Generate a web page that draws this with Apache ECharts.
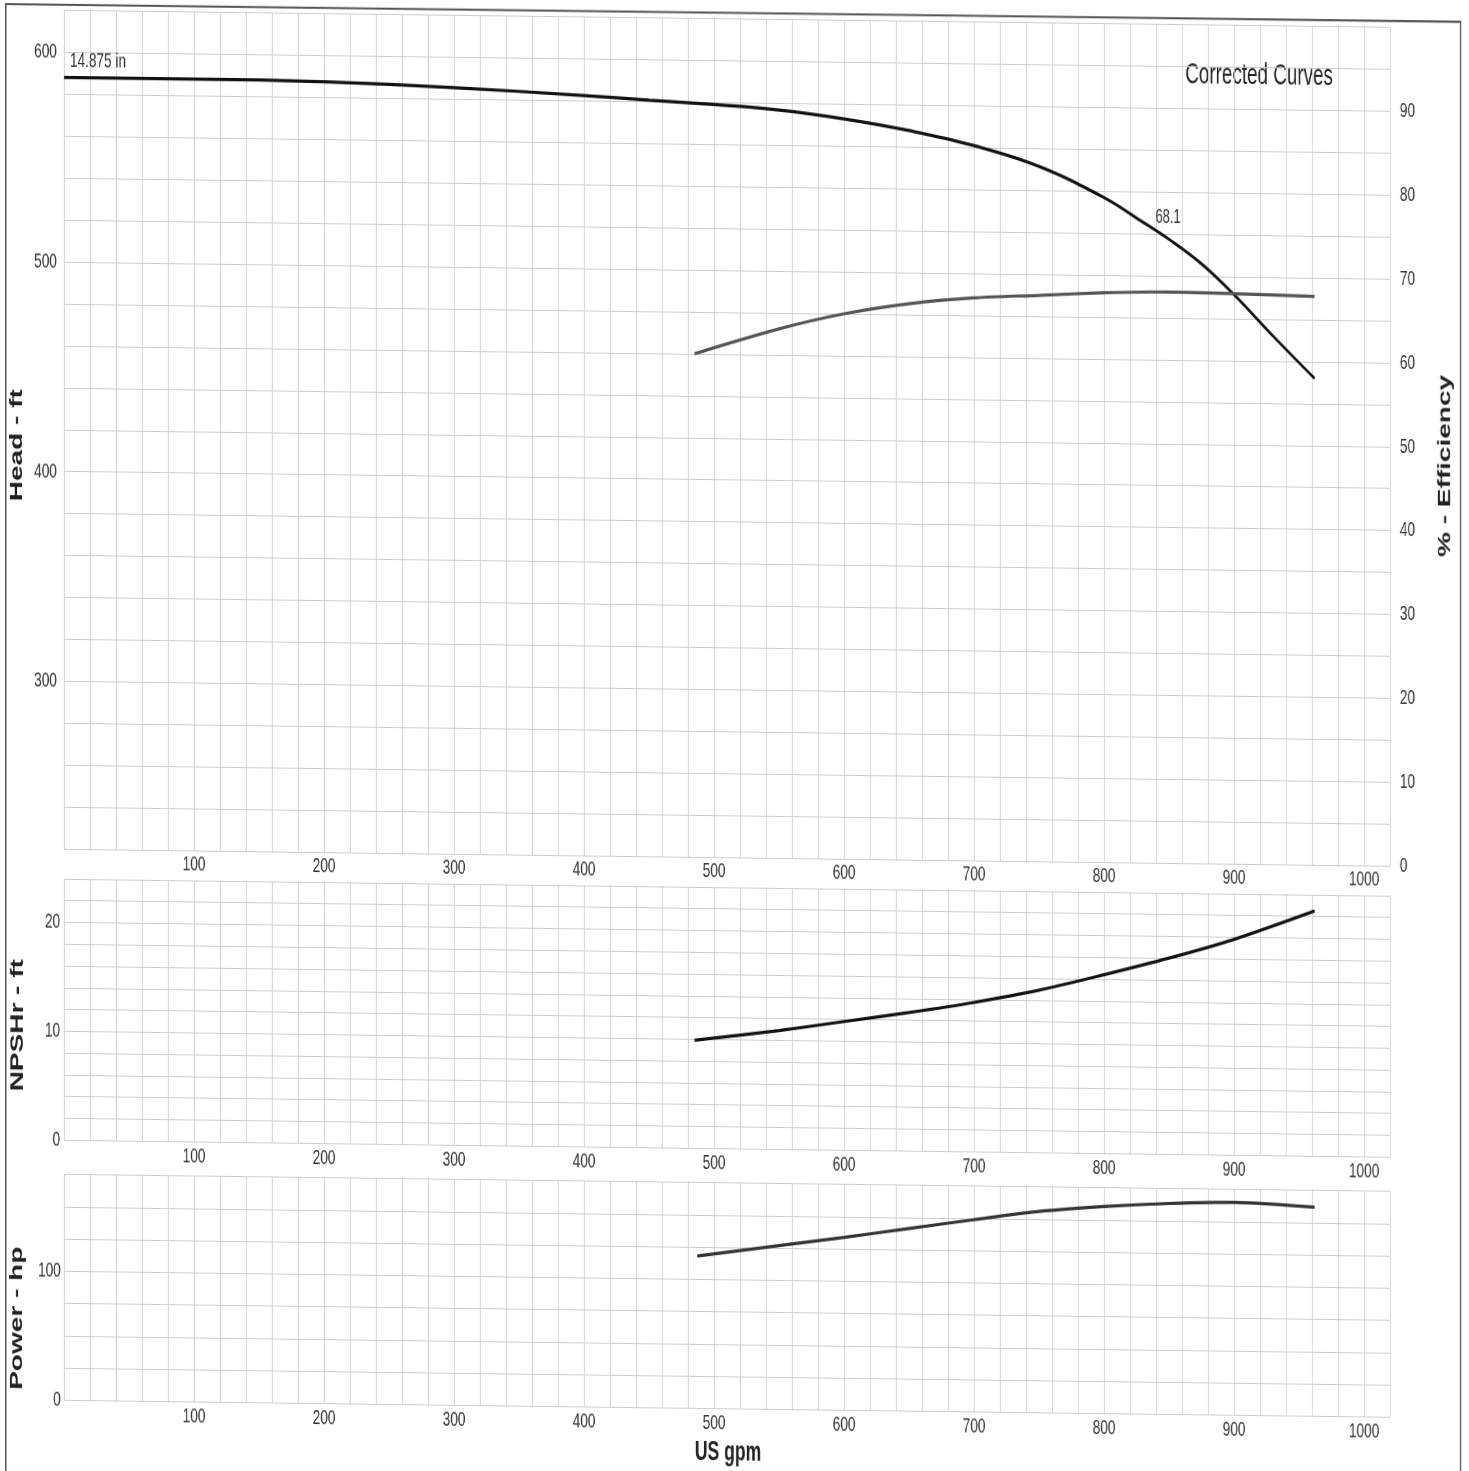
<!DOCTYPE html>
<html>
<head>
<meta charset="utf-8">
<script src="https://cdn.jsdelivr.net/npm/echarts@6/dist/echarts.min.js"></script>
<style>
html,body{margin:0;padding:0;background:#fff;width:1469px;height:1471px;overflow:hidden;}
/* the scanned sheet is compressed horizontally and slightly sheared; reproduce that look */
#chart{width:2260px;height:1500px;transform-origin:0 0;transform:skewY(0.733deg) scaleX(0.65);}
</style>
</head>
<body>
<div id="chart"></div>
<script>
// ---- data ----
var headGpm = [0, 100, 200, 300, 400, 450, 500, 550, 600, 650, 700, 750, 800, 828, 850, 875, 900, 930, 962];
var headFt  = [588, 588, 587.5, 585.5, 582.5, 580.7, 579, 576.8, 573, 567.8, 561, 551.5, 537, 526.3, 517.5, 506, 491.5, 472, 452];

var effGpm = [485, 550, 600, 650, 700, 750, 800, 850, 900, 962];
var effPct = [60.0, 63.1, 65.0, 66.3, 67.1, 67.5, 67.9, 68.1, 68.0, 67.8];

var npshGpm = [485, 550, 600, 650, 700, 750, 800, 850, 900, 962];
var npshFt  = [9.9, 10.9, 11.8, 12.7, 13.7, 14.9, 16.4, 18.0, 19.8, 22.5];

var powerGpm = [487, 550, 600, 650, 700, 750, 800, 850, 900, 962];
var powerHp  = [118, 127, 134, 141.5, 149, 156, 160.5, 163.5, 165, 162];

var impellerLabel = "14.875 in";
var bepLabel = "68.1";
var bepPoint = [850, 517.5];

// ---- helpers ----
function pairs(xs, ys){ return xs.map(function(x,i){ return [x, ys[i]]; }); }
var FONT = "'Liberation Sans', Arial, sans-serif";
var gridColor = '#cdcdcd';
var labelColor = '#333';

function xAxisFor(idx){
  return {
    type:'value', gridIndex:idx, min:0, max:1020, interval:20,
    axisLine:{show:false}, axisTick:{show:false},
    splitLine:{show:true, lineStyle:{color:gridColor, width:1.5}},
    axisLabel:{
      margin:4, color:labelColor, fontFamily:FONT, fontSize:21,
      formatter:function(v){ return (v>0 && v%100===0) ? String(v) : ''; }
    }
  };
}

var chart = echarts.init(document.getElementById('chart'));
var option = {
  animation:false,
  backgroundColor:'#fff',
  grid:[
    {left:98.5, top:9.5, width:2040, height:838.6},
    {left:98.5, top:877.8, width:2040, height:261.5},
    {left:98.5, top:1173.7, width:2040, height:225.6}
  ],
  xAxis:[ xAxisFor(0), xAxisFor(1), xAxisFor(2) ],
  yAxis:[
    {type:'value', gridIndex:0, position:'left', min:220, max:620, interval:20,
     axisLine:{show:false}, axisTick:{show:false},
     splitLine:{show:true, lineStyle:{color:gridColor}},
     axisLabel:{margin:11, color:labelColor, fontFamily:FONT, fontSize:21,
       formatter:function(v){ return v%100===0 ? String(v) : ''; }}},
    {type:'value', gridIndex:0, position:'right', min:0, max:100, interval:10,
     axisLine:{show:false}, axisTick:{show:false}, splitLine:{show:false},
     axisLabel:{margin:15, color:labelColor, fontFamily:FONT, fontSize:21,
       formatter:function(v){ return v<100 ? String(v) : ''; }}},
    {type:'value', gridIndex:1, min:0, max:24, interval:2,
     axisLine:{show:false}, axisTick:{show:false},
     splitLine:{show:true, lineStyle:{color:gridColor}},
     axisLabel:{margin:6, color:labelColor, fontFamily:FONT, fontSize:21,
       formatter:function(v){ return v%10===0 ? String(v) : ''; }}},
    {type:'value', gridIndex:2, min:0, max:175, interval:25,
     axisLine:{show:false}, axisTick:{show:false},
     splitLine:{show:true, lineStyle:{color:gridColor}},
     axisLabel:{margin:5, color:labelColor, fontFamily:FONT, fontSize:21,
       formatter:function(v){ return v%100===0 ? String(v) : ''; }}}
  ],
  series:[
    {name:'Head', type:'line', xAxisIndex:0, yAxisIndex:0, smooth:0.4, showSymbol:false,
     lineStyle:{color:'#111', width:3.2}, data:pairs(headGpm, headFt),
     markPoint:{
       symbol:'circle', symbolSize:0, silent:true,
       data:[
         {coord:[headGpm[0], headFt[0]], value:impellerLabel,
          label:{show:true, formatter:impellerLabel, position:[9,-27], color:labelColor, fontFamily:FONT, fontSize:21}},
         {coord:bepPoint, value:bepLabel,
          label:{show:true, formatter:bepLabel, position:[-21,-32], color:labelColor, fontFamily:FONT, fontSize:20}}
       ]
     }},
    {name:'Efficiency', type:'line', xAxisIndex:0, yAxisIndex:1, smooth:0.3, showSymbol:false,
     lineStyle:{color:'#555', width:3.2}, data:pairs(effGpm, effPct)},
    {name:'NPSHr', type:'line', xAxisIndex:1, yAxisIndex:2, smooth:0.3, showSymbol:false,
     lineStyle:{color:'#111', width:3.2}, data:pairs(npshGpm, npshFt)},
    {name:'Power', type:'line', xAxisIndex:2, yAxisIndex:3, smooth:0.3, showSymbol:false,
     lineStyle:{color:'#333', width:3.2}, data:pairs(powerGpm, powerHp)}
  ],
  graphic:[
    {type:'polyline', silent:true, z:0,
     shape:{points:[[9,1520],[9,4],[2247,3],[2247,1520]]},
     style:{stroke:'#555', lineWidth:2, fill:null}},
    {type:'text', x:1937, y:60, silent:true,
     style:{text:'Corrected Curves', font:'29px ' + FONT, fill:'#222', textAlign:'center', textVerticalAlign:'middle'}},
    {type:'text', x:1120, y:1444, silent:true,
     style:{text:'US gpm', font:'bold 27px ' + FONT, fill:'#222', textAlign:'center', textVerticalAlign:'middle'}},
    {type:'text', x:26, y:445, rotation:Math.PI/2, silent:true,
     style:{text:'Head - ft', font:'bold 28px ' + FONT, fill:'#222', textAlign:'center', textVerticalAlign:'middle'}},
    {type:'text', x:27.5, y:1025, rotation:Math.PI/2, silent:true,
     style:{text:'NPSHr - ft', font:'bold 28px ' + FONT, fill:'#222', textAlign:'center', textVerticalAlign:'middle'}},
    {type:'text', x:26, y:1318, rotation:Math.PI/2, silent:true,
     style:{text:'Power - hp', font:'bold 28px ' + FONT, fill:'#222', textAlign:'center', textVerticalAlign:'middle'}},
    {type:'text', x:2223, y:447.5, rotation:Math.PI/2, silent:true,
     style:{text:'% - Efficiency', font:'bold 28px ' + FONT, fill:'#222', textAlign:'center', textVerticalAlign:'middle'}}
  ]
};
chart.setOption(option);
</script>
</body>
</html>
